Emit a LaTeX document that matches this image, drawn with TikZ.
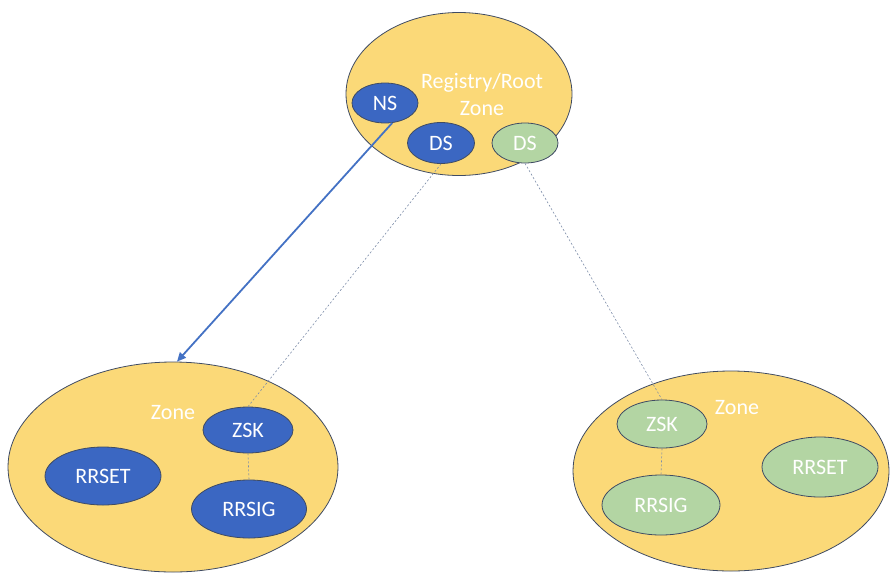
\documentclass[tikz,border=0pt]{standalone}
\usepackage{fontspec}
\setmainfont{Carlito}
\usetikzlibrary{shapes.geometric,arrows.meta}
\definecolor{zonefill}{HTML}{FBD978}
\definecolor{keyblue}{HTML}{3B67C2}
\definecolor{keygreen}{HTML}{B3D5A3}
\definecolor{edgegray}{HTML}{3F4B63}
\definecolor{arrowblue}{HTML}{4472C4}
\definecolor{dashblue}{HTML}{7C8CA8}
\tikzset{
  zone/.style={ellipse, draw=edgegray, line width=0.8pt, fill=zonefill, inner sep=0pt},
  bluekey/.style={ellipse, draw=edgegray, line width=0.8pt, fill=keyblue, text=white, inner sep=0pt, font=\fontsize{22}{25}\selectfont},
  greenkey/.style={ellipse, draw=edgegray, line width=0.8pt, fill=keygreen, text=white, inner sep=0pt, font=\fontsize{22}{25}\selectfont},
  zonelabel/.style={text=white, inner sep=0pt, font=\fontsize{22}{27}\selectfont, align=center},
  link/.style={dashed, dash pattern=on 2pt off 2pt, draw=dashblue, line width=0.6pt},
  delegation/.style={draw=arrowblue, line width=1.8pt, -{Triangle[length=9pt,width=8pt]}}
}
\begin{document}
\begin{tikzpicture}[x=1pt,y=-1pt]
\useasboundingbox (0,0) rectangle (890,576);
% zones
\node[zone, minimum width=226pt, minimum height=163pt] (root) at (459,94) {};
\node[zone, minimum width=330pt, minimum height=210pt] (zoneL) at (173,467) {};
\node[zone, minimum width=316pt, minimum height=200pt] (zoneR) at (731,471) {};
% root contents
\node[zonelabel] (rootlabel) at (482,94) {Registry/Root\\Zone};
\node[bluekey, minimum width=66pt, minimum height=40pt] (ns) at (385,103) {NS};
\node[bluekey, minimum width=67pt, minimum height=41pt] (dsB) at (441,143) {DS};
\node[greenkey, minimum width=66pt, minimum height=40pt] (dsG) at (525,143) {DS};
% left zone contents
\node[zonelabel] (zlabelL) at (173,413) {Zone};
\node[bluekey, minimum width=90pt, minimum height=46pt] (zskB) at (248,430) {ZSK};
\node[bluekey, minimum width=116pt, minimum height=58pt] (rrsetB) at (103,476) {RRSET};
\node[bluekey, minimum width=115pt, minimum height=58pt] (rrsigB) at (249,509) {RRSIG};
% right zone contents
\node[zonelabel] (zlabelR) at (737,408) {Zone};
\node[greenkey, minimum width=90pt, minimum height=48pt] (zskG) at (662,424) {ZSK};
\node[greenkey, minimum width=116pt, minimum height=60pt] (rrsetG) at (820,467) {RRSET};
\node[greenkey, minimum width=118pt, minimum height=60pt] (rrsigG) at (661,505) {RRSIG};
% connectors
\coordinate (arrowEnd) at ([xshift=4pt]zoneL.north);
\draw[delegation] (ns.-70) -- (arrowEnd);
\draw[link] (dsB.south) -- (zskB.north);
\draw[link] (dsG.south) -- (zskG.north);
\draw[link] (zskB.south) -- (rrsigB.north);
\draw[link] (zskG.south) -- (rrsigG.north);
\end{tikzpicture}
\end{document}
